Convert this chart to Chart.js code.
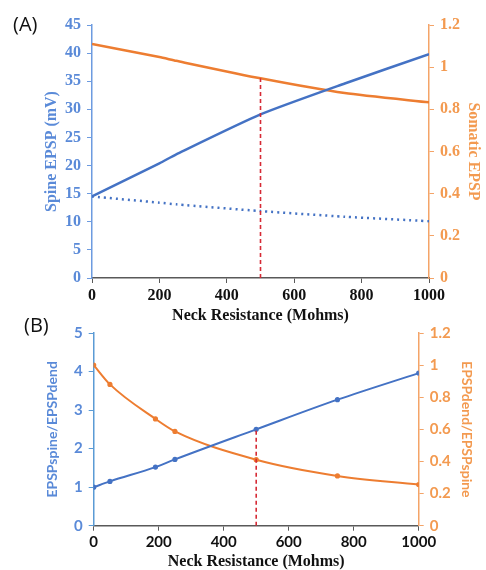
<!DOCTYPE html>
<html>
<head>
<meta charset="utf-8">
<script src="https://cdn.jsdelivr.net/npm/chart.js@4.4.1/dist/chart.umd.min.js"></script>
<style>
  html, body { margin: 0; padding: 0; background: #fff; overflow: hidden; }
  #wrap { position: relative; width: 486px; height: 570px; }
  canvas { position: absolute; left: 0; }
  .tag { position: absolute; font-family: "Open Sans", sans-serif; font-size: 20px; color: #111; }
</style>
</head>
<body>
<div id="wrap">
  <canvas id="chartA" width="486" height="330" style="top:0"></canvas>
  <canvas id="chartB" width="486" height="270" style="top:300px"></canvas>
  <div class="tag" style="left:13px;top:10px">(A)</div>
  <div class="tag" style="left:24px;top:311px">(B)</div>
</div>
<script>
// panel A data
var resistA = [0, 200, 250, 500, 750, 1000];
var spineEpsp = [14.5, 20.4, 22.0, 29.1, 34.6, 39.8];
var spineEpspDotted = [14.5, 13.4, 13.1, 11.9, 10.9, 10.1];
var somaticEpsp = [1.11, 1.048, 1.03, 0.947, 0.877, 0.833];

// panel B data
var resistB = [0, 50, 190, 250, 500, 750, 1000];
var spineOverDend = [1.0, 1.15, 1.52, 1.72, 2.5, 3.27, 3.96];
var dendOverSpine = [1.0, 0.88, 0.665, 0.587, 0.411, 0.31, 0.256];

// tick labels
var xTicks = [0, 200, 400, 600, 800, 1000];
var yTicksA = [0, 5, 10, 15, 20, 25, 30, 35, 40, 45];
var yTicksB = [0, 1, 2, 3, 4, 5];
var rightTicks = [0, 0.2, 0.4, 0.6, 0.8, 1, 1.2];

var markA = 500;   // red marker position
var markB = 500;

var BLUE = '#4472c4';
var ORANGE = '#ed7d31';
var BLUE_TXT = '#5a8ad8';
var ORANGE_TXT = '#f39a50';
var RED = '#d62a35';

function pts(xs, ys) {
    return xs.map((x, i) => ({x: x, y: ys[i]}));
}
function setTicks(arr) {
    return function(scale) { scale.ticks = arr.map(v => ({value: v})); };
}
function fixW(w) { return function(s) { s.width = w; }; }
function fixH(h) { return function(s) { s.height = h; }; }
function fmt(v) { return String(Number(v.toFixed(1))); }

var serif = 'Liberation Serif';
var sans = 'Lato';

// ---------- panel A ----------
new Chart(document.getElementById('chartA').getContext('2d'), {
    type: 'line',
    data: {
        datasets: [
            {data: [{x: markA, y: 0}, {x: markA, y: somaticEpsp[resistA.indexOf(markA)]}],
             yAxisID: 'y1', borderColor: RED, borderWidth: 1.6, borderDash: [4, 3],
             pointRadius: 0, order: 0},
            {data: pts(resistA, spineEpsp), yAxisID: 'y', borderColor: BLUE,
             borderWidth: 2.5, pointRadius: 0, tension: 0.2, order: 1},
            {data: pts(resistA, somaticEpsp), yAxisID: 'y1', borderColor: ORANGE,
             borderWidth: 2.5, pointRadius: 0, tension: 0.2, order: 2},
            {data: pts(resistA, spineEpspDotted), yAxisID: 'y', borderColor: BLUE,
             borderWidth: 2.5, borderDash: [2, 4], pointRadius: 0, tension: 0.2, order: 3}
        ]
    },
    options: {
        responsive: false,
        animation: false,
        layout: {padding: {left: 38, right: 0, top: 25, bottom: 0}},
        plugins: {legend: {display: false}, tooltip: {enabled: false}},
        scales: {
            x: {
                type: 'linear', min: 0, max: 1000,
                afterBuildTicks: setTicks(xTicks), afterFit: fixH(52),
                grid: {drawOnChartArea: false, tickLength: 5, color: '#595959'},
                border: {color: '#595959', width: 1.5},
                ticks: {color: '#111', padding: 3, callback: fmt,
                        font: {family: serif, size: 16, weight: 'bold'}},
                title: {display: true, text: 'Neck Resistance (Mohms)', color: '#111',
                        padding: {top: 0, bottom: 5}, font: {family: serif, size: 16, weight: 'bold'}}
            },
            y: {
                position: 'left', min: 0, max: 45,
                afterBuildTicks: setTicks(yTicksA), afterFit: fixW(54),
                grid: {drawOnChartArea: false, tickLength: 5, color: '#6d9be0'},
                border: {color: '#6d9be0', width: 1.5},
                ticks: {color: BLUE_TXT, padding: 6, font: {family: serif, size: 16, weight: 'bold'}},
                title: {display: true, text: 'Spine EPSP (mV)', color: BLUE_TXT,
                        padding: {top: 4, bottom: 0}, font: {family: serif, size: 16, weight: 'bold'}}
            },
            y1: {
                position: 'right', min: 0, max: 1.2,
                afterBuildTicks: setTicks(rightTicks), afterFit: fixW(57),
                grid: {drawOnChartArea: false, tickLength: 5, color: '#f4a468'},
                border: {color: '#f4a468', width: 1.5},
                ticks: {color: ORANGE_TXT, padding: 6, callback: fmt,
                        font: {family: serif, size: 16, weight: 'bold'}},
                title: {display: true, text: 'Somatic EPSP', color: ORANGE_TXT,
                        padding: {top: 3, bottom: 0}, font: {family: serif, size: 16, weight: 'bold'}}
            }
        }
    }
});

// ---------- panel B ----------
new Chart(document.getElementById('chartB').getContext('2d'), {
    type: 'line',
    data: {
        datasets: [
            {data: [{x: markB, y: 0}, {x: markB, y: spineOverDend[resistB.indexOf(markB)]}],
             yAxisID: 'y', borderColor: RED, borderWidth: 1.6, borderDash: [4, 3],
             pointRadius: 0, order: 0},
            {data: pts(resistB, spineOverDend), yAxisID: 'y', borderColor: BLUE,
             backgroundColor: BLUE, borderWidth: 2, pointRadius: 1.6, cubicInterpolationMode: 'monotone', order: 1},
            {data: pts(resistB, dendOverSpine), yAxisID: 'y1', borderColor: ORANGE,
             backgroundColor: ORANGE, borderWidth: 2, pointRadius: 1.6, cubicInterpolationMode: 'monotone', order: 2}
        ]
    },
    options: {
        responsive: false,
        animation: false,
        layout: {padding: {left: 40, right: 7, top: 33, bottom: 0}},
        plugins: {legend: {display: false}, tooltip: {enabled: false}},
        scales: {
            x: {
                type: 'linear', min: 0, max: 1000,
                afterBuildTicks: setTicks(xTicks), afterFit: fixH(44.3),
                grid: {drawOnChartArea: false, tickLength: 5, color: '#595959'},
                border: {color: '#595959', width: 1.5},
                ticks: {color: '#111', padding: 2, callback: fmt,
                        font: {family: sans, size: 15, weight: 'bold'}},
                title: {display: true, text: 'Neck Resistance (Mohms)', color: '#111',
                        padding: {top: 0, bottom: 0},
                        font: {family: serif, size: 16, weight: 'bold', lineHeight: 1}}
            },
            y: {
                position: 'left', min: 0, max: 5,
                afterBuildTicks: setTicks(yTicksB), afterFit: fixW(53.7),
                grid: {drawOnChartArea: false, tickLength: 5, color: '#5b9bd5'},
                border: {color: '#5b9bd5', width: 1.5},
                ticks: {color: BLUE_TXT, padding: 6, font: {family: sans, size: 15, weight: 'bold'}},
                title: {display: true, text: 'EPSPspine/EPSPdend', color: BLUE_TXT,
                        padding: {top: 4, bottom: 0}, font: {family: sans, size: 14, weight: 'bold'}}
            },
            y1: {
                position: 'right', min: 0, max: 1.2,
                afterBuildTicks: setTicks(rightTicks), afterFit: fixW(60.3),
                grid: {drawOnChartArea: false, tickLength: 5, color: '#f4a468'},
                border: {color: '#f4a468', width: 1.5},
                ticks: {color: ORANGE_TXT, padding: 6, callback: fmt,
                        font: {family: sans, size: 15, weight: 'bold'}},
                title: {display: true, text: 'EPSPdend/EPSPspine', color: ORANGE_TXT,
                        padding: {top: 4, bottom: 0}, font: {family: sans, size: 14, weight: 'bold'}}
            }
        }
    }
});
</script>
</body>
</html>
